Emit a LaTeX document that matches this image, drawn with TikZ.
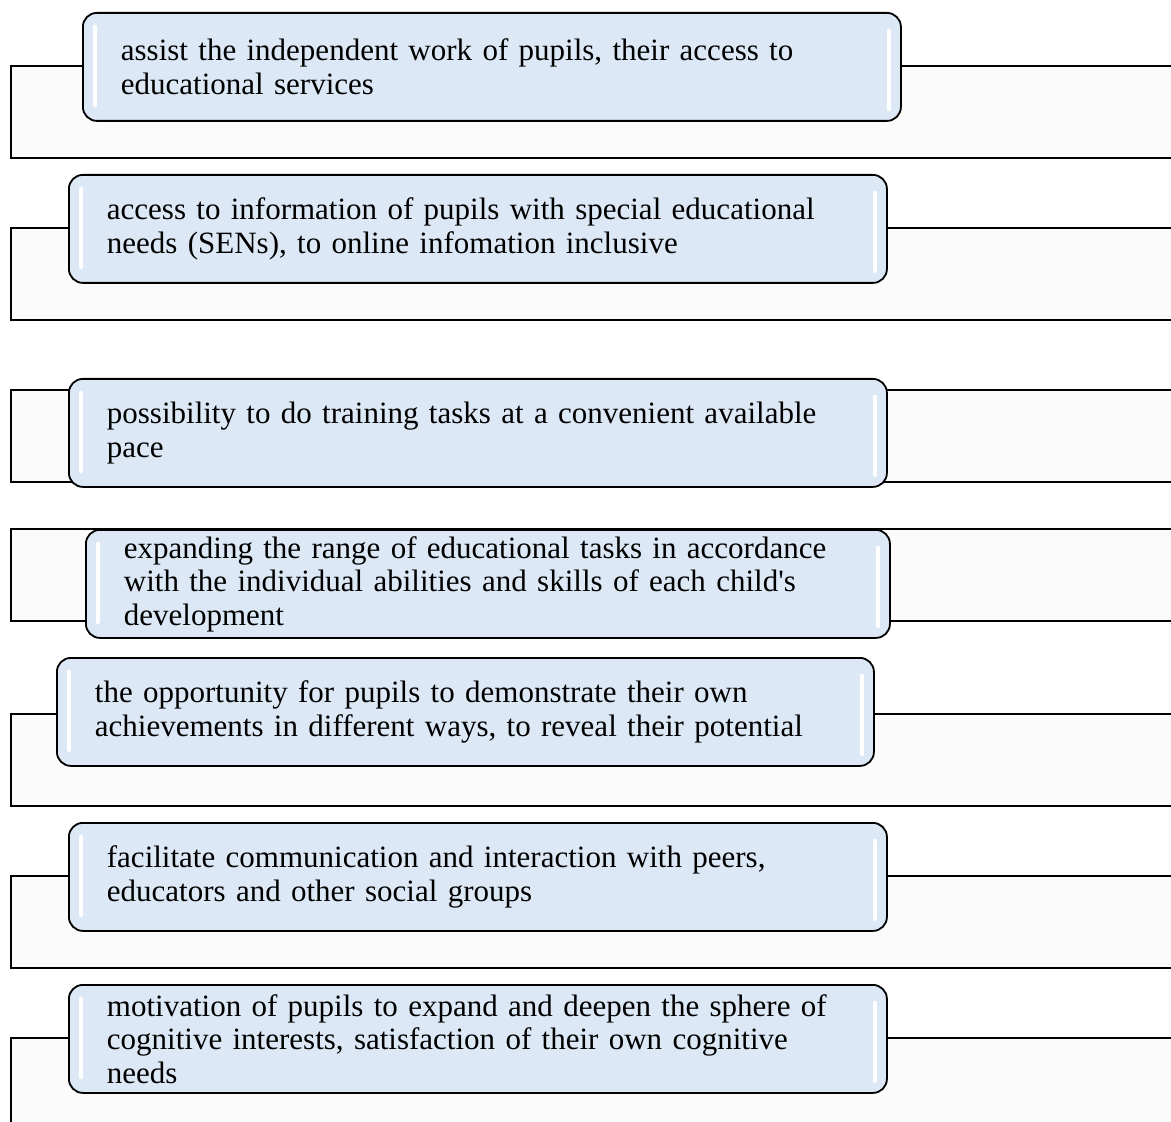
\documentclass[tikz,border=0pt]{standalone}
\usepackage{fontspec}
\setmainfont{Liberation Serif}
\definecolor{bandgray}{RGB}{251,251,251}
\definecolor{itemblue}{RGB}{220,232,245}

\begin{document}
\begin{tikzpicture}[x=0.5pt,y=-0.5pt]

\tikzset{band/.style = {shape=rectangle,draw,line width=0.9pt,fill=bandgray,minimum width=590pt,minimum height=46pt,anchor=north west,inner sep=0pt}}
\tikzset{item/.style = {shape=rectangle,draw,line width=0.9pt,fill=itemblue,rounded corners=7pt,minimum width=#1,text width=#1-38pt,minimum height=54pt,anchor=north west,inner sep=0pt,align=left,font=\fontsize{15.5}{16.75}\selectfont,
  path picture={
    \draw[white,line width=2.2pt,line cap=round] ([xshift=6pt,yshift=-7pt]path picture bounding box.north west) -- ([xshift=6pt,yshift=8pt]path picture bounding box.south west);
    \draw[white,line width=2.2pt,line cap=round] ([xshift=-6pt,yshift=-9pt]path picture bounding box.north east) -- ([xshift=-6pt,yshift=6pt]path picture bounding box.south east);
  }}}

\useasboundingbox (0,0) rectangle (1171,1122);
\clip (0,0) rectangle (1171,1122);

% bands
\node[band] (band1) at (10,65) {};
\node[band] (band2) at (10,227) {};
\node[band] (band3) at (10,389) {};
\node[band] (band4) at (10,528) {};
\node[band] (band5) at (10,713) {};
\node[band] (band6) at (10,875) {};
\node[band] (band7) at (10,1037) {};

% items
\node[item=409pt] (item1) at (82,12) {assist the independent work of pupils, their access to\\ educational services};
\node[item=409pt] (item2) at (68,174) {access to information of pupils with special educational\\ needs (SENs), to online infomation inclusive};
\node[item=409pt] (item3) at (68,378) {possibility to do training tasks at a convenient available\\ pace};
\node[item=402pt] (item4) at (85,529) {expanding the range of educational tasks in accordance\\ with the individual abilities and skills of each child{\addfontfeatures{Ligatures=TeXOff}'}s\\ development};
\node[item=408.5pt] (item5) at (56,657) {the opportunity for pupils to demonstrate their own\\ achievements in different ways, to reveal their potential};
\node[item=409pt] (item6) at (68,822) {facilitate communication and interaction with peers,\\ educators and other social groups};
\node[item=409pt] (item7) at (68,984) {motivation of pupils to expand and deepen the sphere of\\ cognitive interests, satisfaction of their own cognitive\\ needs};
\end{tikzpicture}
\end{document}
